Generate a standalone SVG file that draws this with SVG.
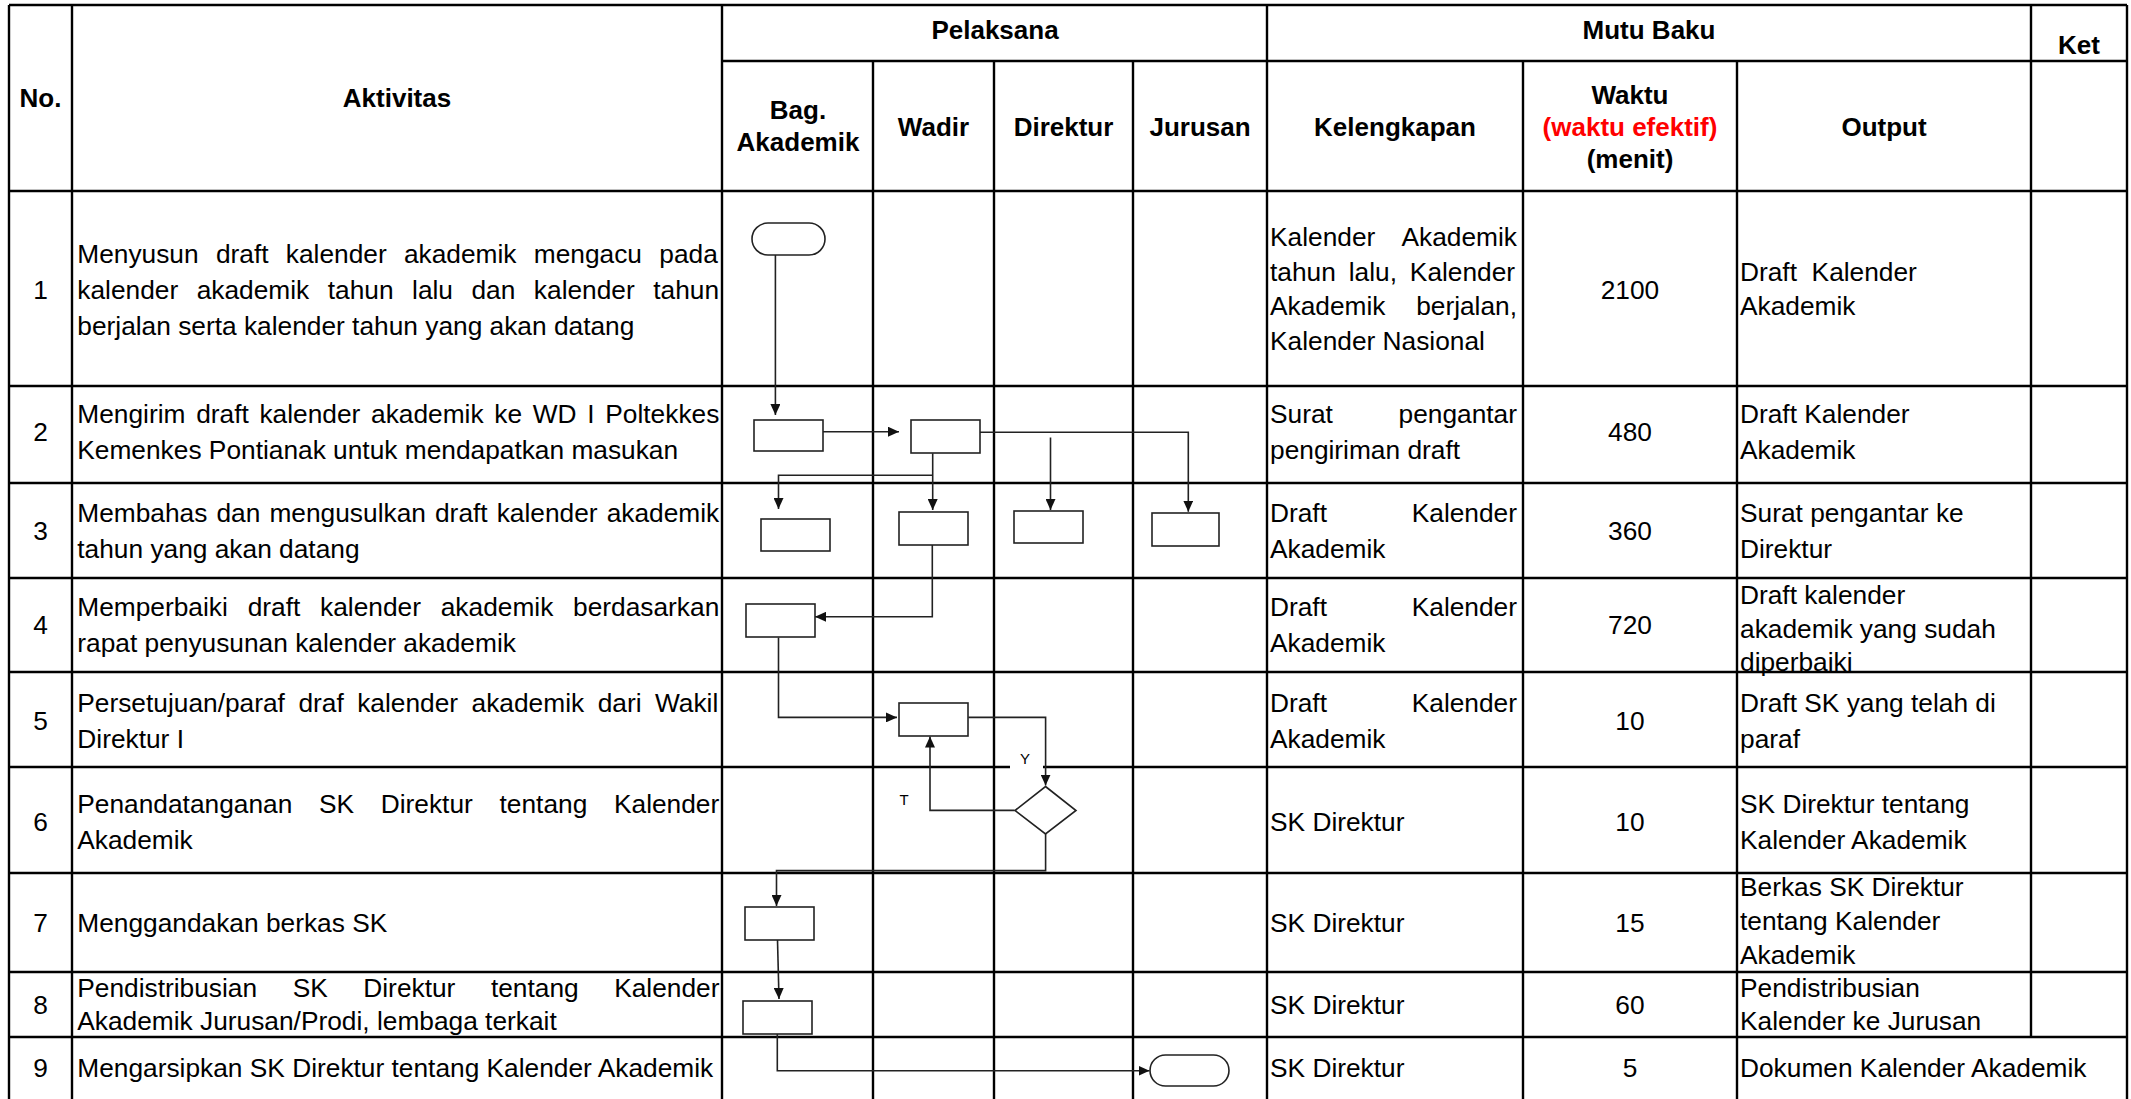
<svg xmlns="http://www.w3.org/2000/svg" width="2131" height="1099" viewBox="0 0 2131 1099">
  <style>
    .grid{fill:none;stroke:#000;stroke-width:2.4}
    .shape{fill:#fff;stroke:#222;stroke-width:1.6}
    .conn{fill:none;stroke:#222;stroke-width:1.6;marker-end:url(#arrow)}
    .txt{font-family:'Liberation Sans',Arial,sans-serif;font-size:26.3px;fill:#000}
    .hd{font-weight:bold;text-anchor:middle;font-size:26px}
    .mid{text-anchor:middle}
    .end{text-anchor:end}
    .red{fill:#ff0000}
    .lbl{font-family:'Liberation Sans',Arial,sans-serif;font-size:15px;text-anchor:middle;fill:#000}
  </style>
  <defs>
    <marker id="arrow" viewBox="0 0 11 10" refX="11" refY="5" markerWidth="11" markerHeight="10" markerUnits="userSpaceOnUse" orient="auto">
      <path d="M0,0 L11,5 L0,10 z" fill="#111"/>
    </marker>
  </defs>

  <rect width="2131" height="1099" fill="#fff"/>

  <!-- table grid -->
  <g id="table">
    <path class="grid" d="
      M9,5 H2127
      M722,61 H2127
      M9,191 H2127 M9,386 H2127 M9,483 H2127 M9,578 H2127 M9,672 H2127
      M9,767 H2127 M9,873 H2127 M9,972 H2127 M9,1037 H2127
      M9,5 V1099 M72,5 V1099 M722,5 V1099
      M873,61 V1099 M994,61 V1099 M1133,61 V1099
      M1267,5 V1099 M1523,61 V1099 M1737,61 V1099
      M2031,5 V1037 M2127,5 V1099"/>
  </g>

  <!-- decision labels (Y sits in a gap of the row line) -->
  <g id="labels">
    <rect x="1010" y="751" width="33" height="21" fill="#fff"/>
    <text class="lbl" x="1025" y="764">Y</text>
    <text class="lbl" x="904" y="805">T</text>
  </g>

  <!-- connectors -->
  <g id="connectors">
    <path class="conn" d="M775.4,255 V415"/>
    <path class="conn" d="M822.5,431.7 H899"/>
    <path class="conn" d="M980,432.3 H1188.3 V511.7"/>
    <path class="conn" d="M1050.5,437.5 V510"/>
    <path class="conn" d="M932.7,453.3 V510"/>
    <path class="conn" d="M932.7,475.3 H778.5 V509"/>
    <path class="conn" d="M932.3,545 V616.8 H815"/>
    <path class="conn" d="M778.5,637.5 V717.4 H897"/>
    <path class="conn" d="M968.3,717.4 H1045.6 V785.6"/>
    <path class="conn" d="M1014.6,810.4 H930 V736.5"/>
    <path class="conn" d="M1045.6,833.8 V870.6 H776.5 V906"/>
    <path class="conn" d="M777.5,940 L779,999"/>
    <path class="conn" d="M777.3,1033.6 V1070.8 H1149.5"/>
  </g>

  <!-- flow nodes -->
  <g id="start"><rect class="shape" x="752" y="223" width="73" height="32" rx="16"/></g>
  <g id="bag-kirim"><rect class="shape" x="754" y="420" width="69" height="31"/></g>
  <g id="wadir-terima"><rect class="shape" x="911" y="420" width="69" height="33"/></g>
  <g id="bag-bahas"><rect class="shape" x="761" y="519" width="69" height="32"/></g>
  <g id="wadir-bahas"><rect class="shape" x="899" y="512" width="69" height="33"/></g>
  <g id="direktur-bahas"><rect class="shape" x="1014" y="511" width="69" height="32"/></g>
  <g id="jurusan-bahas"><rect class="shape" x="1152" y="513" width="67" height="33"/></g>
  <g id="bag-perbaiki"><rect class="shape" x="746" y="604" width="69" height="33"/></g>
  <g id="wadir-paraf"><rect class="shape" x="899" y="703" width="69" height="33"/></g>
  <g id="direktur-ttd"><polygon class="shape" points="1045.5,786.5 1076,810.5 1045.5,834 1015,810.5"/></g>
  <g id="bag-gandakan"><rect class="shape" x="745" y="907" width="69" height="33"/></g>
  <g id="bag-distribusi"><rect class="shape" x="743" y="1001" width="69" height="33"/></g>
  <g id="end"><rect class="shape" x="1150" y="1055" width="79" height="31" rx="15.5"/></g>

  <!-- table text -->
  <g class="txt">
    <!-- header -->
    <text class="hd" x="40.5" y="107">No.</text>
    <text class="hd" x="397" y="107">Aktivitas</text>
    <text class="hd" x="995" y="39">Pelaksana</text>
    <text class="hd" x="1649" y="39">Mutu Baku</text>
    <text class="hd" x="2079" y="54">Ket</text>
    <text class="hd" x="798" y="119">Bag.</text>
    <text class="hd" x="798" y="151">Akademik</text>
    <text class="hd" x="933.5" y="136">Wadir</text>
    <text class="hd" x="1063.5" y="136">Direktur</text>
    <text class="hd" x="1200" y="136">Jurusan</text>
    <text class="hd" x="1395" y="136">Kelengkapan</text>
    <text class="hd" x="1630" y="104">Waktu</text>
    <text class="hd red" x="1630" y="136">(waktu efektif)</text>
    <text class="hd" x="1630" y="168">(menit)</text>
    <text class="hd" x="1884" y="136">Output</text>

    <!-- row numbers -->
    <text class="mid" x="40.5" y="299">1</text>
    <text class="mid" x="40.5" y="441">2</text>
    <text class="mid" x="40.5" y="540">3</text>
    <text class="mid" x="40.5" y="634">4</text>
    <text class="mid" x="40.5" y="729.5">5</text>
    <text class="mid" x="40.5" y="831">6</text>
    <text class="mid" x="40.5" y="932">7</text>
    <text class="mid" x="40.5" y="1014">8</text>
    <text class="mid" x="40.5" y="1077">9</text>

    <!-- Aktivitas -->
    <text x="77.3" y="263" word-spacing="9.98">Menyusun draft kalender akademik mengacu pada</text>
    <text x="77.3" y="299" word-spacing="11.2">kalender akademik tahun lalu dan kalender tahun</text>
    <text x="77.3" y="335">berjalan serta kalender tahun yang akan datang</text>
    <text x="77.3" y="423" word-spacing="3.4">Mengirim draft kalender akademik ke WD I Poltekkes</text>
    <text x="77.3" y="459">Kemenkes Pontianak untuk mendapatkan masukan</text>
    <text x="77.3" y="522" word-spacing="1.8">Membahas dan mengusulkan draft kalender akademik</text>
    <text x="77.3" y="558">tahun yang akan datang</text>
    <text x="77.3" y="616" word-spacing="12.5">Memperbaiki draft kalender akademik berdasarkan</text>
    <text x="77.3" y="652">rapat penyusunan kalender akademik</text>
    <text x="77.3" y="711.5" word-spacing="6.2">Persetujuan/paraf draf kalender akademik dari Wakil</text>
    <text x="77.3" y="747.5">Direktur I</text>
    <text x="77.3" y="813" word-spacing="19.4">Penandatanganan SK Direktur tentang Kalender</text>
    <text x="77.3" y="849">Akademik</text>
    <text x="77.3" y="932">Menggandakan berkas SK</text>
    <text x="77.3" y="997" word-spacing="28.25">Pendistribusian SK Direktur tentang Kalender</text>
    <text x="77.3" y="1030">Akademik Jurusan/Prodi, lembaga terkait</text>
    <text x="77.3" y="1077">Mengarsipkan SK Direktur tentang Kalender Akademik</text>

    <!-- Kelengkapan -->
    <text x="1270" y="246.25">Kalender</text>
    <text class="end" x="1517" y="246.25">Akademik</text>
    <text x="1270" y="280.75" word-spacing="5.6">tahun lalu, Kalender</text>
    <text x="1270" y="315.25">Akademik</text>
    <text class="end" x="1517" y="315.25">berjalan,</text>
    <text x="1270" y="349.75">Kalender Nasional</text>
    <text x="1270" y="423">Surat</text>
    <text class="end" x="1517" y="423">pengantar</text>
    <text x="1270" y="459">pengiriman draft</text>
    <text x="1270" y="522">Draft</text>
    <text class="end" x="1517" y="522">Kalender</text>
    <text x="1270" y="558">Akademik</text>
    <text x="1270" y="616">Draft</text>
    <text class="end" x="1517" y="616">Kalender</text>
    <text x="1270" y="652">Akademik</text>
    <text x="1270" y="711.5">Draft</text>
    <text class="end" x="1517" y="711.5">Kalender</text>
    <text x="1270" y="747.5">Akademik</text>
    <text x="1270" y="831">SK Direktur</text>
    <text x="1270" y="932">SK Direktur</text>
    <text x="1270" y="1014">SK Direktur</text>
    <text x="1270" y="1077">SK Direktur</text>

    <!-- Waktu -->
    <text class="mid" x="1630" y="299">2100</text>
    <text class="mid" x="1630" y="441">480</text>
    <text class="mid" x="1630" y="540">360</text>
    <text class="mid" x="1630" y="634">720</text>
    <text class="mid" x="1630" y="729.5">10</text>
    <text class="mid" x="1630" y="831">10</text>
    <text class="mid" x="1630" y="932">15</text>
    <text class="mid" x="1630" y="1014">60</text>
    <text class="mid" x="1630" y="1077">5</text>

    <!-- Output -->
    <text x="1740" y="280.75" word-spacing="7.3">Draft Kalender</text>
    <text x="1740" y="315.25">Akademik</text>
    <text x="1740" y="423">Draft Kalender</text>
    <text x="1740" y="459">Akademik</text>
    <text x="1740" y="522">Surat pengantar ke</text>
    <text x="1740" y="558">Direktur</text>
    <text x="1740" y="604">Draft kalender</text>
    <text x="1740" y="637.5">akademik yang sudah</text>
    <text x="1740" y="671">diperbaiki</text>
    <text x="1740" y="711.5">Draft SK yang telah di</text>
    <text x="1740" y="747.5">paraf</text>
    <text x="1740" y="813">SK Direktur tentang</text>
    <text x="1740" y="849">Kalender Akademik</text>
    <text x="1740" y="896">Berkas SK Direktur</text>
    <text x="1740" y="930">tentang Kalender</text>
    <text x="1740" y="964">Akademik</text>
    <text x="1740" y="997">Pendistribusian</text>
    <text x="1740" y="1030">Kalender ke Jurusan</text>
    <text x="1740" y="1077">Dokumen Kalender Akademik</text>
  </g>
</svg>
